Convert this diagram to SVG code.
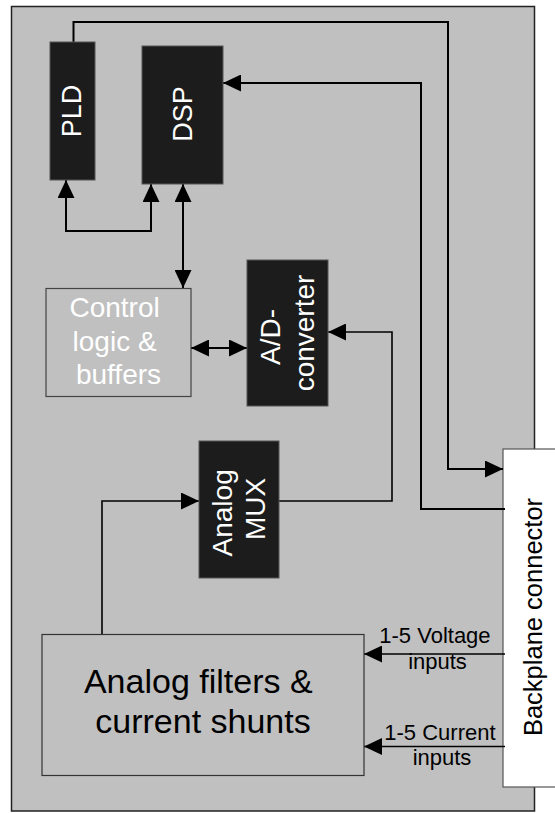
<svg xmlns="http://www.w3.org/2000/svg" width="555" height="813" viewBox="0 0 555 813">
  <defs>
    <marker id="arr" markerUnits="userSpaceOnUse" markerWidth="18" markerHeight="17" refX="18" refY="8.5" orient="auto-start-reverse" viewBox="0 0 18 17">
      <path d="M0,0 L18,8.5 L0,17 z" fill="#000"/>
    </marker>
    <style>
      text { font-family: "Liberation Sans", Arial, sans-serif; }
      .dark { fill: #1c1c1c; stroke: #555; stroke-width: 1; }
      .wt { fill: #fff; }
      .bk { fill: #000; }
      .con { fill: none; stroke: #000; stroke-width: 2; }
      .thin { stroke-width: 1.6; }
    </style>
  </defs>

  <g id="board">
    <rect x="11.5" y="6.5" width="523" height="804.5" fill="#c0c0c0" stroke="#222" stroke-width="1.5"/>
  </g>

  <g id="backplane">
    <rect x="503" y="449" width="70" height="338" fill="#fff" stroke="#555" stroke-width="1.2"/>
    <text transform="translate(533,617) rotate(-90)" text-anchor="middle" y="9" font-size="25.5" class="bk">Backplane connector</text>
  </g>

  <g id="connectors">
    <path class="con" d="M73.5,42 V22 H448 V469 H503" marker-end="url(#arr)"/>
    <path class="con" d="M505,509 H421 V83 H223" marker-end="url(#arr)"/>
    <path class="con" d="M66,180 V231 H151 V184" marker-start="url(#arr)" marker-end="url(#arr)"/>
    <path class="con" d="M183,184 V288" marker-start="url(#arr)" marker-end="url(#arr)"/>
    <path class="con" d="M191,348 H247" marker-start="url(#arr)" marker-end="url(#arr)"/>
    <path class="con thin" d="M102,634 V501 H199" marker-end="url(#arr)"/>
    <path class="con thin" d="M279,501 H392 V332 H328" marker-end="url(#arr)"/>
    <path class="con thin" d="M505,654 H364" marker-end="url(#arr)"/>
    <path class="con thin" d="M505,746.5 H364" marker-end="url(#arr)"/>
  </g>

  <g id="pld">
    <rect class="dark" x="50" y="42" width="45" height="138"/>
    <text transform="translate(72.5,111) rotate(-90)" text-anchor="middle" y="8.5" font-size="27" class="wt">PLD</text>
  </g>

  <g id="dsp">
    <rect class="dark" x="142" y="46" width="81" height="138"/>
    <text transform="translate(182.5,114) rotate(-90)" text-anchor="middle" y="9" font-size="27" class="wt">DSP</text>
  </g>

  <g id="control">
    <rect x="46" y="288.5" width="145" height="108" fill="#c0c0c0" stroke="#444" stroke-width="1.2"/>
    <text text-anchor="middle" font-size="28" class="wt">
      <tspan x="118.5" y="317">Control</tspan>
      <tspan x="118.5" y="351">logic &amp;</tspan>
      <tspan x="118.5" y="384">buffers</tspan>
    </text>
  </g>

  <g id="adc">
    <rect class="dark" x="247" y="260" width="81" height="146"/>
    <text transform="translate(287.5,333) rotate(-90)" text-anchor="middle" font-size="28" class="wt">
      <tspan x="0" y="-7.5">A/D-</tspan>
      <tspan x="0" y="26.5">converter</tspan>
    </text>
  </g>

  <g id="mux">
    <rect class="dark" x="199" y="441" width="80" height="137"/>
    <text transform="translate(239,509) rotate(-90)" text-anchor="middle" font-size="28" class="wt">
      <tspan x="0" y="-6.7">Analog</tspan>
      <tspan x="0" y="26">MUX</tspan>
    </text>
  </g>

  <g id="filters">
    <rect x="42" y="634.5" width="322" height="141" fill="#c0c0c0" stroke="#333" stroke-width="1.2"/>
    <text text-anchor="middle" font-size="34" class="bk">
      <tspan x="203" y="693">Analog filters &amp;</tspan>
      <tspan x="203" y="733">current shunts</tspan>
    </text>
  </g>

  <g id="labels">
    <text text-anchor="middle" class="bk" font-size="22">
      <tspan x="438" y="643">1-5 Voltage</tspan>
      <tspan x="437.5" y="669">inputs</tspan>
    </text>
    <text text-anchor="middle" class="bk" font-size="22">
      <tspan x="443" y="740">1-5 Current</tspan>
      <tspan x="442" y="765">inputs</tspan>
    </text>
  </g>
</svg>
